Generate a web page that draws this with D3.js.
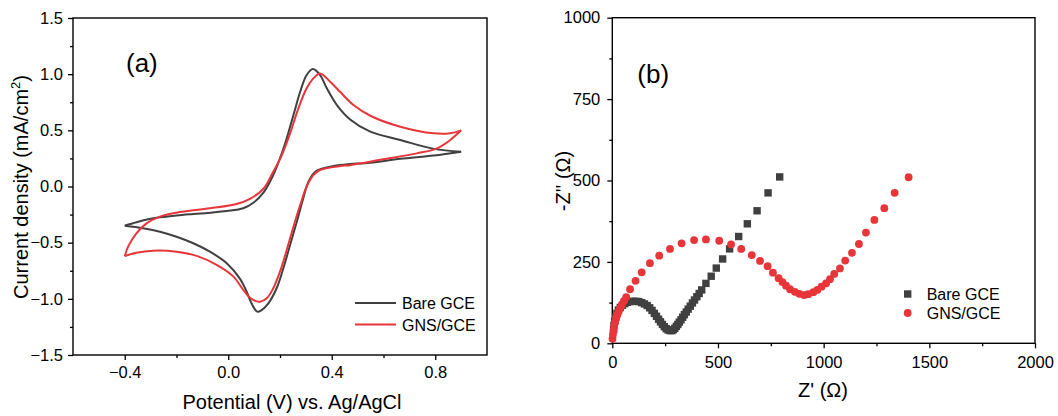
<!DOCTYPE html>
<html>
<head>
<meta charset="utf-8">
<script src="https://cdn.jsdelivr.net/npm/d3@7"></script>
<style>
  html, body { margin: 0; padding: 0; background: #fff; }
  svg { display: block; font-family: "Liberation Sans", Arial, sans-serif; }
</style>
</head>
<body>
<svg id="chart" width="1058" height="416"></svg>
<script>
// ---------- (a) cyclic voltammograms: forward (anodic) and reverse branches ----------
const bareFwdE = [-0.4, -0.355, -0.31, -0.264, -0.2, -0.135, -0.06, -0.006, 0.058, 0.097, 0.136, 0.168, 0.2, 0.226, 0.252, 0.278, 0.303, 0.327, 0.355, 0.381, 0.42, 0.471, 0.549, 0.665, 0.794, 0.9];
const bareFwdJ = [-0.35, -0.319, -0.292, -0.274, -0.258, -0.245, -0.231, -0.218, -0.194, -0.145, -0.055, 0.073, 0.251, 0.429, 0.636, 0.843, 0.992, 1.045, 0.992, 0.874, 0.725, 0.597, 0.488, 0.414, 0.335, 0.31];
const bareRevE = [0.9, 0.794, 0.665, 0.549, 0.471, 0.432, 0.368, 0.336, 0.31, 0.29, 0.265, 0.239, 0.213, 0.187, 0.155, 0.129, 0.112, 0.09, 0.07, 0.045, -0.006, -0.071, -0.135, -0.2, -0.264, -0.329, -0.4];
const bareRevJ = [0.31, 0.276, 0.247, 0.212, 0.2, 0.191, 0.162, 0.132, 0.043, -0.105, -0.313, -0.52, -0.728, -0.906, -1.04, -1.1, -1.114, -1.04, -0.93, -0.82, -0.683, -0.58, -0.505, -0.447, -0.402, -0.372, -0.35];

const gnsFwdE = [-0.4, -0.387, -0.355, -0.316, -0.264, -0.2, -0.071, 0.032, 0.084, 0.136, 0.174, 0.207, 0.239, 0.271, 0.303, 0.329, 0.355, 0.394, 0.432, 0.484, 0.549, 0.665, 0.794, 0.858, 0.9];
const gnsFwdJ = [-0.62, -0.535, -0.417, -0.328, -0.268, -0.233, -0.194, -0.156, -0.11, -0.02, 0.132, 0.28, 0.473, 0.696, 0.874, 0.963, 1.007, 0.932, 0.843, 0.725, 0.63, 0.532, 0.473, 0.474, 0.5];
const gnsRevE = [0.9, 0.858, 0.807, 0.729, 0.6, 0.471, 0.432, 0.355, 0.329, 0.303, 0.278, 0.252, 0.226, 0.2, 0.174, 0.149, 0.123, 0.107, 0.084, 0.058, 0.019, -0.045, -0.122, -0.2, -0.29, -0.355, -0.4];
const gnsRevJ = [0.5, 0.414, 0.34, 0.295, 0.242, 0.19, 0.182, 0.147, 0.102, 0.0, -0.165, -0.358, -0.565, -0.758, -0.906, -0.995, -1.025, -1.02, -0.99, -0.92, -0.8, -0.698, -0.618, -0.58, -0.571, -0.589, -0.62];

const cvXTicks = [-0.4, 0.0, 0.4, 0.8];
const cvXMinor = [-0.2, 0.2, 0.6];
const cvYTicks = [-1.5, -1.0, -0.5, 0.0, 0.5, 1.0, 1.5];
const cvYMinor = [-1.25, -0.75, -0.25, 0.25, 0.75, 1.25];

// ---------- (b) Nyquist plots ----------
const bareZre = [6, 8, 11, 16, 22, 29, 38, 48, 59, 71, 84, 97, 111, 125, 139, 152, 165, 177, 188, 199, 209, 219, 228, 237, 246, 255, 264, 273, 282, 289, 296, 303, 310, 317, 325, 333, 341, 350, 359, 369, 379, 389, 400, 411, 423, 443, 468, 492, 522, 555, 598, 639, 685, 737, 792];
const bareZim = [42, 55, 68, 80, 92, 102, 110, 117, 122, 126, 128, 129, 129, 128, 125, 121, 116, 109, 101, 92, 83, 74, 66, 58, 51, 45, 41, 39, 39, 42, 46, 52, 58, 65, 72, 80, 88, 96, 105, 114, 124, 133, 143, 153, 164, 184, 206, 231, 259, 290, 328, 367, 407, 462, 511];

const gnsZre = [1, 3, 6, 9, 13, 18, 24, 30, 37, 45, 55, 66, 84, 110, 139, 178, 222, 273, 328, 387, 443, 506, 562, 610, 660, 699, 735, 760, 787, 805, 822, 841, 864, 885, 907, 927, 951, 970, 990, 1011, 1030, 1050, 1077, 1102, 1134, 1167, 1200, 1240, 1287, 1336, 1402];
const gnsZim = [14, 27, 40, 52, 64, 77, 88, 98, 108, 118, 130, 142, 166, 192, 218, 246, 269, 290, 307, 317, 319, 315, 304, 290, 271, 253, 237, 217, 200, 188, 177, 166, 158, 152, 148, 151, 157, 164, 174, 184, 197, 213, 230, 254, 278, 305, 340, 379, 415, 462, 510];

const eisXTicks = [0, 500, 1000, 1500, 2000];
const eisXMinor = [250, 750, 1250, 1750];
const eisYTicks = [0, 250, 500, 750, 1000];
const eisYMinor = [125, 375, 625, 875];

const seriesNames = ["Bare GCE", "GNS/GCE"];
const colBare = "#404040";
const colGns = "#e8353a";

const tickFont = 16.5;
const titleFont = 20;

const svg = d3.select("#chart");

function drawFrame(g, x, y, w, h, xt, xm, yt, ym, xfmt, yfmt, xpad, ypad) {
  const xAxis = d3.axisBottom(x).tickValues(xt).tickSize(5).tickPadding(xpad).tickFormat(xfmt);
  const xAxisMinor = d3.axisBottom(x).tickValues(xm).tickSize(3).tickFormat("");
  const yAxis = d3.axisLeft(y).tickValues(yt).tickSize(5).tickPadding(ypad).tickFormat(yfmt);
  const yAxisMinor = d3.axisLeft(y).tickValues(ym).tickSize(3).tickFormat("");
  const gx = g.append("g").attr("transform", `translate(0,${h})`).call(xAxis);
  const gxm = g.append("g").attr("transform", `translate(0,${h})`).call(xAxisMinor);
  const gy = g.append("g").call(yAxis);
  const gym = g.append("g").call(yAxisMinor);
  [gx, gxm, gy, gym].forEach(a => {
    a.select(".domain").remove();
    a.selectAll("line").attr("stroke", "#000").attr("stroke-width", 1.3);
    a.selectAll("text").attr("font-size", tickFont).attr("fill", "#000")
      .attr("font-family", "'Liberation Sans', Arial, sans-serif");
  });
  g.append("rect").attr("x", 0).attr("y", 0).attr("width", w).attr("height", h)
    .attr("fill", "none").attr("stroke", "#000").attr("stroke-width", 1.4);
}

// ---------- panel (a) ----------
{
  const L = 73, T = 18, W = 414, H = 337;
  const g = svg.append("g").attr("transform", `translate(${L},${T})`);
  const x = d3.scaleLinear().domain([-0.6, 1.0]).range([0, W]);
  const y = d3.scaleLinear().domain([-1.5, 1.5]).range([H, 0]);
  drawFrame(g, x, y, W, H, cvXTicks, cvXMinor, cvYTicks, cvYMinor, d3.format(".1f"), d3.format(".1f"), 6, 5);

  const line = d3.line().x(d => x(d[0])).y(d => y(d[1])).curve(d3.curveCatmullRom.alpha(0.5));
  const zip = (a, b) => a.map((v, i) => [v, b[i]]);
  const curves = [
    { e: bareFwdE, j: bareFwdJ, c: colBare },
    { e: bareRevE, j: bareRevJ, c: colBare },
    { e: gnsFwdE, j: gnsFwdJ, c: colGns },
    { e: gnsRevE, j: gnsRevJ, c: colGns }
  ];
  g.selectAll("path.cv").data(curves).join("path").attr("class", "cv")
    .attr("d", d => line(zip(d.e, d.j)))
    .attr("fill", "none").attr("stroke", d => d.c).attr("stroke-width", 2)
    .attr("stroke-linejoin", "miter");

  g.append("text").attr("x", 53).attr("y", 54).attr("font-size", 26).text("(a)");

  // legend
  const lg = g.append("g").attr("transform", `translate(${355 - L},${303 - T})`);
  [colBare, colGns].forEach((c, i) => {
    lg.append("line").attr("x1", 0).attr("x2", 41).attr("y1", i * 21.5).attr("y2", i * 21.5)
      .attr("stroke", c).attr("stroke-width", 2);
    lg.append("text").attr("x", 47).attr("y", i * 21.5 + 6).attr("font-size", 16).text(seriesNames[i]);
  });

  svg.append("text").attr("x", 292).attr("y", 409).attr("text-anchor", "middle")
    .attr("font-size", titleFont).text("Potential (V) vs. Ag/AgCl");
  const yl = svg.append("text").attr("transform", "translate(28,187) rotate(-90)")
    .attr("text-anchor", "middle").attr("font-size", titleFont);
  yl.append("tspan").text("Current density (mA/cm");
  yl.append("tspan").attr("font-size", 13).attr("dy", -8).text("2");
  yl.append("tspan").attr("dy", 8).text(")");
}

// ---------- panel (b) ----------
{
  const L = 612.3, T = 17.7, W = 422.7, H = 325.6;
  const g = svg.append("g").attr("transform", `translate(${L},${T})`);
  const x = d3.scaleLinear().domain([0, 2000]).range([0, W]);
  const y = d3.scaleLinear().domain([0, 1000]).range([H, 0]);
  drawFrame(g, x, y, W, H, eisXTicks, eisXMinor, eisYTicks, eisYMinor, d3.format("d"), d3.format("d"), 8, 7);

  const sq = 7.4;
  g.selectAll("rect.bare").data(bareZre.map((v, i) => [v, bareZim[i]])).join("rect")
    .attr("class", "bare")
    .attr("x", d => x(d[0]) - sq / 2).attr("y", d => y(d[1]) - sq / 2)
    .attr("width", sq).attr("height", sq).attr("fill", colBare);
  g.selectAll("circle.gns").data(gnsZre.map((v, i) => [v, gnsZim[i]])).join("circle")
    .attr("class", "gns")
    .attr("cx", d => x(d[0])).attr("cy", d => y(d[1])).attr("r", 3.9).attr("fill", colGns);

  g.append("text").attr("x", 25).attr("y", 65).attr("font-size", 26).text("(b)");

  const lg = g.append("g").attr("transform", `translate(${907.7 - L},${294 - T})`);
  lg.append("rect").attr("x", -sq / 2).attr("y", -sq / 2).attr("width", sq).attr("height", sq).attr("fill", colBare);
  lg.append("circle").attr("cx", 0).attr("cy", 19).attr("r", 3.9).attr("fill", colGns);
  seriesNames.forEach((n, i) => {
    lg.append("text").attr("x", 19).attr("y", i * 19 + 6).attr("font-size", 16).text(n);
  });

  svg.append("text").attr("x", 823).attr("y", 397).attr("text-anchor", "middle")
    .attr("font-size", titleFont).text("Z' (Ω)");
  svg.append("text").attr("transform", "translate(570,181) rotate(-90)")
    .attr("text-anchor", "middle").attr("font-size", titleFont).text("-Z'' (Ω)");
}
</script>
</body>
</html>
